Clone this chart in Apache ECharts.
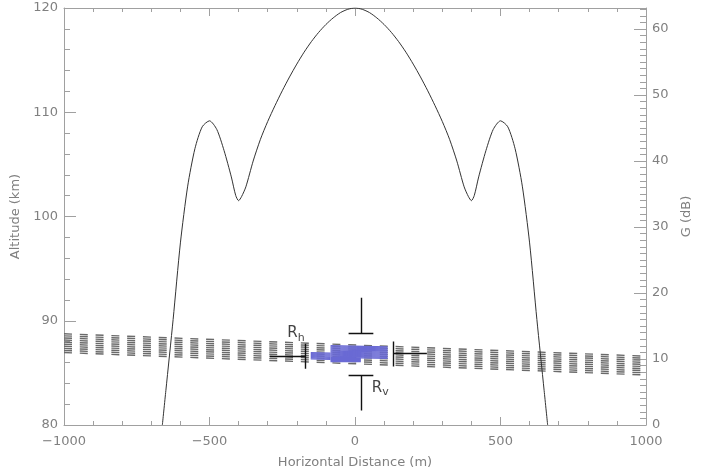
<!DOCTYPE html>
<html><head><meta charset="utf-8">
<script src="https://cdn.jsdelivr.net/npm/echarts@6/dist/echarts.min.js"></script>
<style>html,body{margin:0;padding:0;background:#fff}#c{width:701px;height:476px}</style>
</head><body><div id="c"></div>
<script>
// Antenna gain pattern (horizontal distance m, gain dB)
const distance = [-662,-650,-625,-600,-575,-550,-525,-500,-475,-450,-425,-410,-400,-390,-375,-350,-325,-300,-275,-250,-225,-200,-175,-150,-125,-100,-75,-50,-25,0,
                  25,50,75,100,125,150,175,200,225,250,275,300,325,350,375,390,400,410,425,450,475,500,525,550,575,600,625,650,662];
const gainDb = [0,5.2,16,27.6,36.2,41.9,45.2,46.1,44.8,41.6,37.6,34.8,34.0,34.6,36.1,40.0,43.3,46.0,48.4,50.65,52.75,54.7,56.5,58.1,59.5,60.7,61.7,62.5,63.0,63.2,
                63.0,62.5,61.7,60.7,59.5,58.1,56.5,54.7,52.75,50.65,48.4,46.0,43.3,40.0,36.1,34.6,34.0,34.8,37.6,41.6,44.8,46.1,45.2,41.9,36.2,27.6,16,5.2,0];

// Hatched layer (dashed lines, altitude km at left and right ends)
const bandX = [-1000, 1000];
const bandLeftKm  = [88.75,88.55,88.35,88.15,87.95,87.75,87.55,87.35,87.15,86.95];
const bandRightKm = [86.60,86.40,86.20,86.00,85.80,85.60,85.40,85.20,85.00,84.80];

// Blue patch (solid lines)
const blueTopX = [-84, 112];
const blueTopLeftKm  = [87.6,87.5,87.4,87.3,87.2,87.1,87.0,86.9,86.8,86.7,86.6,86.5];
const blueTopRightKm = [87.5,87.4,87.3,87.2,87.1,87.0,86.9,86.8,86.7,86.6,86.5,86.4];
const blueLowX = [-84, 20];
const blueLowKm = [86.4,86.3,86.2,86.1];
const blueThinX = [-152, -84];
const blueThinKm = [86.95,86.85,86.75,86.65,86.55,86.45,86.35];

// Resolution markers (segments in m, km)
const markerSegments = [
  [[20,92.2],[20,88.8]], [[-22,88.8],[63,88.8]],
  [[-22,84.8],[63,84.8]], [[20,84.8],[20,81.4]],
  [[-292,86.6],[-172,86.6]], [[-172,87.8],[-172,85.4]],
  [[131,88.0],[131,85.6]], [[131,86.9],[247,86.9]]
];
const markerLabels = [
  {sub:'h', x:-203, km:88.8},
  {sub:'v', x:87, km:83.55}
];

const xTicks = {min:-1000, max:1000, interval:500};
const leftTicks = {min:80, max:120, interval:10};
const rightTicks = {min:0, max:63.2, interval:10};

const axisGray = '#a0a0a0';
const textGray = '#808080';
const font = 'DejaVu Sans';

const curveData = distance.map((d,i)=>[d, gainDb[i]]);
const bandData = bandLeftKm.map((k,i)=>({coords:[[bandX[0],k],[bandX[1],bandRightKm[i]]]}));
const blueData = []
  .concat(blueTopLeftKm.map((k,i)=>({coords:[[blueTopX[0],k],[blueTopX[1],blueTopRightKm[i]]]})))
  .concat(blueLowKm.map(k=>({coords:[[blueLowX[0],k],[blueLowX[1],k]]})))
  .concat(blueThinKm.map(k=>({coords:[[blueThinX[0],k],[blueThinX[1],k-0.05]]})));
const markerData = markerSegments.map(s=>({coords:s}));

const chart = echarts.init(document.getElementById('c'), null, {renderer:'canvas'});
chart.setOption({
  animation:false,
  backgroundColor:'#fff',
  grid:{left:64, right:50, top:8, bottom:51},
  xAxis:[{
    type:'value', min:xTicks.min, max:xTicks.max, interval:xTicks.interval,
    name:'Horizontal Distance (m)', nameLocation:'middle', nameGap:31,
    nameTextStyle:{color:textGray, fontFamily:font, fontSize:13},
    axisLine:{show:true, onZero:false, lineStyle:{color:axisGray, width:1}},
    axisTick:{show:true, inside:true, length:8, lineStyle:{color:axisGray}},
    minorTick:{show:true, splitNumber:5, length:4, lineStyle:{color:axisGray}},
    axisLabel:{color:textGray, fontFamily:font, fontSize:13, margin:10,
      formatter:v=> v<0 ? '\u2212'+Math.abs(v) : String(v)},
    splitLine:{show:false}
  },{
    type:'value', position:'top', min:xTicks.min, max:xTicks.max, interval:xTicks.interval,
    axisLine:{show:true, onZero:false, lineStyle:{color:axisGray, width:1}},
    axisTick:{show:true, inside:true, length:8, lineStyle:{color:axisGray}},
    minorTick:{show:true, splitNumber:5, length:4, lineStyle:{color:axisGray}},
    axisLabel:{show:false}, splitLine:{show:false}
  }],
  yAxis:[{
    type:'value', position:'left', min:leftTicks.min, max:leftTicks.max, interval:leftTicks.interval,
    name:'Altitude (km)', nameLocation:'middle', nameGap:40, nameRotate:90,
    nameTextStyle:{color:textGray, fontFamily:font, fontSize:13},
    axisLine:{show:true, onZero:false, lineStyle:{color:axisGray, width:1}},
    axisTick:{show:true, inside:true, length:12, lineStyle:{color:axisGray}},
    minorTick:{show:true, splitNumber:5, length:6, lineStyle:{color:axisGray}},
    axisLabel:{color:textGray, fontFamily:font, fontSize:13, margin:6},
    splitLine:{show:false}
  },{
    type:'value', position:'right', min:rightTicks.min, max:rightTicks.max, interval:rightTicks.interval,
    name:'G (dB)', nameLocation:'middle', nameGap:34, nameRotate:90,
    nameTextStyle:{color:textGray, fontFamily:font, fontSize:13},
    axisLine:{show:true, onZero:false, lineStyle:{color:axisGray, width:1}},
    axisTick:{show:true, inside:true, length:12, lineStyle:{color:axisGray}},
    minorTick:{show:true, splitNumber:10, length:6, lineStyle:{color:axisGray}},
    axisLabel:{color:textGray, fontFamily:font, fontSize:13, margin:6,
      formatter:v=> (Math.abs(v%10)<1e-6 ? String(v) : '')},
    splitLine:{show:false}
  }],
  series:[
    {type:'lines', coordinateSystem:'cartesian2d', xAxisIndex:0, yAxisIndex:0, z:2,
     silent:true, data:bandData,
     lineStyle:{color:'#6a6a6a', width:1.4, opacity:1, type:[8,7.8], curveness:0}},
    {type:'lines', coordinateSystem:'cartesian2d', xAxisIndex:0, yAxisIndex:0, z:3,
     silent:true, data:blueData,
     lineStyle:{color:'#6a6ad4', width:1.3, opacity:1, curveness:0}},
    {type:'lines', coordinateSystem:'cartesian2d', xAxisIndex:0, yAxisIndex:0, z:4,
     silent:true, data:markerData,
     lineStyle:{color:'#111', width:1.4, opacity:1, curveness:0}},
    {type:'scatter', xAxisIndex:0, yAxisIndex:0, z:5, symbolSize:0, silent:true,
     data:markerLabels.map(m=>({value:[m.x,m.km], sub:m.sub})),
     label:{show:true, position:'inside', color:'#111',
       formatter:p=>'{a|R}{b|'+p.data.sub+'}',
       rich:{a:{fontFamily:font, fontSize:15, color:'#111'},
             b:{fontFamily:font, fontSize:11, color:'#111', padding:[9,0,0,0]}}}},
    {type:'line', xAxisIndex:0, yAxisIndex:1, z:6, data:curveData, smooth:0.25,
     showSymbol:false, symbol:'none', silent:true,
     lineStyle:{color:'#333', width:1}}
  ]
});
</script>
</body></html>
